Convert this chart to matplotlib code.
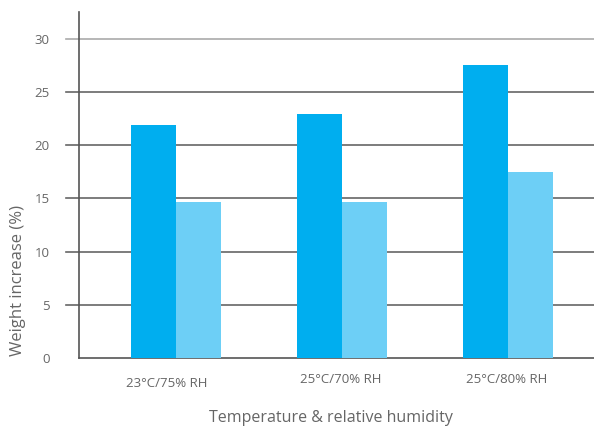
import numpy as np
import matplotlib.pyplot as plt

plt.rcParams['font.family'] = ['Open Sans', 'DejaVu Sans']

categories = ['23°C/75% RH', '25°C/70% RH', '25°C/80% RH']
series_a = [21.85, 22.95, 27.55]
series_b = [14.7, 14.7, 17.5]
yticks = [0, 5, 10, 15, 20, 25, 30]

dark = '#00aeef'
light = '#6dcff6'
txt = '#666666'

fig = plt.figure(figsize=(5.94, 4.28), dpi=100)
ax = fig.add_axes([79/594, 70/428, 1 - 79/594, 346/428])

x = np.arange(len(categories))
w = 0.271
ax.bar(x - w/2, series_a, width=w, color=dark, zorder=3)
ax.bar(x + w/2, series_b, width=w, color=light, zorder=3)

# gridlines that also poke out left of the axis like ticks
for v in yticks[1:]:
    col = '#aaaaaa' if v == 30 else '#666666'
    ax.axhline(v, color=col, lw=1.2, zorder=1, xmin=-13/515, clip_on=False)

ax.set_xlim(-0.584, 2.518)
ax.set_ylim(0, 32.5)
ax.set_yticks(yticks)
# first label sits slightly left of its group in the original
label_shift = [0.054, 0.006, 0.006]
ax.set_xticks(x - np.array(label_shift))
ax.set_xticklabels(categories)
for i, lab in enumerate(ax.get_xticklabels()):
    lab.set_y(-0.04 if i == 0 else -0.03)

ax.tick_params(axis='y', length=0, pad=21, labelsize=9.5, colors=txt)
ax.tick_params(axis='x', length=0, labelsize=9.5, colors=txt)

for s in ['top', 'right']:
    ax.spines[s].set_visible(False)
ax.spines['left'].set_color('#555555')
ax.spines['bottom'].set_color('#555555')
ax.spines['left'].set_linewidth(1.2)
ax.spines['bottom'].set_linewidth(1.2)

fig.text(331/594, 1 - 418/428, 'Temperature & relative humidity', fontsize=11.5,
         color=txt, ha='center', va='center')
fig.text(18/594, 1 - 280/428, 'Weight increase (%)', rotation=90, fontsize=12,
         color=txt, ha='center', va='center')

fig.savefig('out.png', dpi=100)
